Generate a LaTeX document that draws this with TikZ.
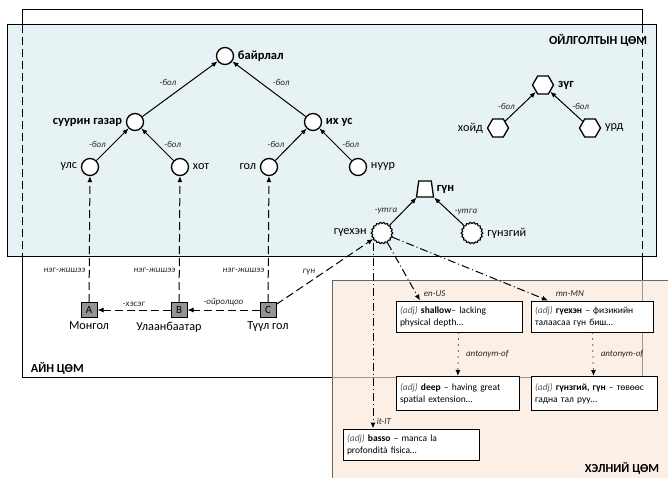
\documentclass[tikz,border=0pt]{standalone}
\usepackage{fontspec}
\setmainfont{Carlito}
\usetikzlibrary{arrows, arrows.meta}
\usetikzlibrary{positioning}
\usetikzlibrary{shapes.geometric}

\definecolor{ontol}{RGB}{230,242,244}
\definecolor{lang}{RGB}{252,240,230}

\begin{document}
\begin{tikzpicture}[x=1pt,y=-1pt,>={Latex[length=6pt,width=5pt]},line width=1pt,
    concept/.style={circle,draw,line width=1.3pt,fill=white,minimum size=17pt,inner sep=0pt},
    dirn/.style={regular polygon,regular polygon sides=6,draw,line width=1.3pt,fill=white,minimum size=21pt,inner sep=0pt},
    sense/.style={star,star points=18,star point ratio=0.88,draw,line width=1.1pt,fill=white,minimum size=19pt,inner sep=0pt},
    trap/.style={trapezium,trapezium left angle=80,trapezium right angle=80,trapezium stretches=true,draw,line width=1.3pt,fill=white,minimum width=17pt,minimum height=16pt,inner sep=1pt},
    inst/.style={rectangle,draw,fill=gray!85,minimum width=16pt,minimum height=15pt,inner sep=0pt,font=\fontsize{11}{11}\selectfont},
    defn/.style={rectangle,draw,fill=white,line width=1pt,align=left,minimum height=31pt,inner xsep=4pt,font=\fontsize{9.5}{12}\selectfont},
    rel/.style={font=\fontsize{9}{10}\selectfont\itshape,text=black!85},
    bold/.style={font=\fontsize{12.5}{15}\selectfont\bfseries},
    norm/.style={font=\fontsize{12.2}{15}\selectfont},
    title/.style={font=\fontsize{12.3}{14}\selectfont\bfseries},
    isa/.style={->},
    ref/.style={->,dash pattern=on 8pt off 4pt},
    tr/.style={->,dash pattern=on 8pt off 3pt on 1pt off 3pt},
    ant/.style={->,dash pattern=on 1pt off 5pt}]
\useasboundingbox (0,0) rectangle (668,478);

% cores
\draw[fill=white] (22,10) rectangle (642,377);
\draw[fill=ontol] (7,25) rectangle (656,256);
\draw[dash pattern=on 8pt off 4pt] (22,25) -- (22,256) (642,25) -- (642,256);
\fill[lang] (332,280) rectangle (690,500);
\draw[black!60,line width=0.8pt] (690,280) -- (332,280) -- (332,500);
\draw[black!40,line width=0.8pt] (642,280) -- (642,377) -- (332,377);

\node[title,anchor=east] (t_ont) at (651,40) {ОЙЛГОЛТЫН ЦӨМ};
\node[title,anchor=west] (t_abox) at (27,368) {АЙН ЦӨМ};
\node[title,anchor=east] (t_lex) at (663,468) {ХЭЛНИЙ ЦӨМ};

% ontology
\node[concept,label={[bold]right:байрлал}] (bairlal) at (225,56) {};
\node[concept,label={[bold]left:суурин газар}] (suurin) at (135,122) {};
\node[concept,label={[bold]right:их ус}] (ihus) at (313,122) {};
\node[concept,label={[norm]left:улс}] (uls) at (90,167) {};
\node[concept,label={[norm]right:хот}] (hot) at (180,167) {};
\node[concept,label={[norm]left:гол}] (gol) at (269,167) {};
\node[concept,label={[norm]right:нуур}] (nuur) at (358,167) {};
\node[dirn,label={[bold]right:зүг}] (zug) at (543,85) {};
\node[dirn,label={[norm]left:хойд}] (hoid) at (498,128) {};
\node[dirn,label={[norm]right:урд}] (urd) at (590,128) {};
\node[trap,label={[bold]right:гүн}] (gun) at (425,189) {};
\node[sense,label={[norm]left:гүехэн}] (gueh) at (382,233) {};
\node[sense,label={[norm]right:гүнзгий}] (gunz) at (472,233) {};

% instances
\node[inst,label={[norm]below:Монгол}] (A) at (89,310) {A};
\node[inst,label={[norm,xshift=-10pt]below:Улаанбаатар}] (B) at (179,310) {B};
\node[inst,label={[norm]below:Түүл гол}] (C) at (268,310) {C};

% lexicon
\node[defn,text width=118pt] (shallow) at (459,316.5)
    {{\itshape\color{black!65}(adj)} \textbf{shallow}– lacking\\ physical depth…};
\node[defn,text width=114pt] (gueh_mn) at (592,316.5)
    {{\itshape\color{black!65}(adj)} \textbf{гүехэн} – физикийн\\ талаасаа гүн биш…};
\node[defn,text width=115pt,minimum height=34pt] (deep) at (457.5,393.5)
    {{\itshape\color{black!65}(adj)} \textbf{deep} – having great\\ spatial extension…};
\node[defn,text width=118pt,minimum height=34pt] (gunz_mn) at (594,393.5)
    {{\itshape\color{black!65}(adj)} \textbf{гүнзгий, гүн} – төвөөс\\ гадна тал руу…};
\node[defn,text width=128pt] (basso) at (411,444.5)
    {{\itshape\color{black!65}(adj)} \textbf{basso} – manca la\\ profondità fisica…};

\path[isa]
    (suurin) edge node[rel,above left] {-бол} (bairlal)
    (ihus) edge node[rel,above right] {-бол} (bairlal)
    (uls) edge node[rel,left=3pt] {-бол} (suurin)
    (hot) edge node[rel,right=3pt] {-бол} (suurin)
    (gol) edge node[rel,left=3pt] {-бол} (ihus)
    (nuur) edge node[rel,right=3pt] {-бол} (ihus)
    (hoid) edge node[rel,left=2pt] {-бол} (zug)
    (urd) edge node[rel,right=2pt] {-бол} (zug)
    (gueh) edge node[rel,left=2pt] {-утга} (gun)
    (gunz) edge node[rel,right=2pt] {-утга} (gun);

\path[ref]
    (A) edge node[rel,pos=0.25,left] {нэг-жишээ} (uls)
    (B) edge node[rel,pos=0.25,left] {нэг-жишээ} (hot)
    (C) edge node[rel,pos=0.25,left] {нэг-жишээ} (gol)
    (C) edge node[rel,above] {-ойролцоо} (B)
    (B) edge node[rel,above] {-хэсэг} (A)
    (C) edge node[rel,pos=0.5,left=6pt] {гүн} (gueh);

\path[tr]
    (gueh) edge node[rel,pos=1,anchor=south west] {en-US} ([xshift=-39pt]shallow.north)
    (gueh) edge node[rel,pos=1,anchor=south west,xshift=4pt] {mn-MN} ([xshift=-44pt]gueh_mn.north)
    ([xshift=-9pt]gueh.south) edge node[rel,pos=1,anchor=south west] {it-IT} ([xshift=-38pt]basso.north);

\path[ant]
    (shallow) edge node[rel,right=4pt] {antonym-of} (deep)
    (gueh_mn) edge node[rel,right=4pt] {antonym-of} (gunz_mn);
\end{tikzpicture}
\end{document}
